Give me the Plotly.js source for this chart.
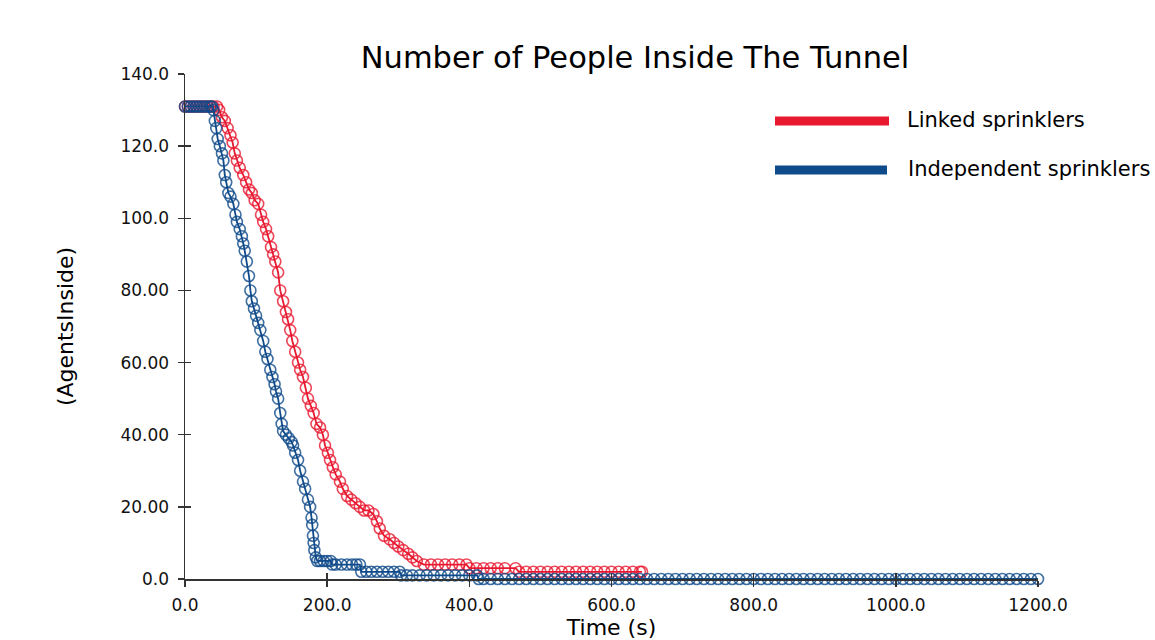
<!DOCTYPE html>
<html>
<head>
<meta charset="utf-8">
<script src="https://cdn.plot.ly/plotly-3.0.1.min.js"></script>
<style>
  html, body { margin: 0; padding: 0; background: #ffffff; }
  #chart { width: 1155px; height: 640px; }
</style>
</head>
<body>
<div id="chart"></div>
<script>
// ---- Data ----
const chartTitle = "Number of People Inside The Tunnel";
const xTitle = "Time (s)";
const yTitle = "(AgentsInside)";
const seriesNames = ["Linked sprinklers", "Independent sprinklers"];

const xTickVals = [0, 200, 400, 600, 800, 1000, 1200];
const xTickText = ["0.0", "200.0", "400.0", "600.0", "800.0", "1000.0", "1200.0"];
const yTickVals = [0, 20, 40, 60, 80, 100, 120, 140];
const yTickText = ["0.0", "20.00", "40.00", "60.00", "80.00", "100.0", "120.0", "140.0"];

// Linked sprinklers
const linkedTime = [
  0, 4, 8, 12, 16, 20, 24, 28, 32, 36,
  40, 45, 48, 52, 56, 60, 64, 67, 70, 73,
  77, 82, 86, 90, 94, 98, 103, 107, 110, 114,
  117, 121, 124, 127, 131, 134, 138, 142, 145, 148,
  151, 155, 159, 162, 166, 170, 173, 177, 181, 185,
  190, 194, 197, 201, 204, 208, 212, 218, 222, 228,
  234, 240, 246, 252, 258, 265, 270, 274, 280, 288,
  294, 300, 307, 314, 320, 326, 336, 346, 356, 366,
  376, 386, 396, 400, 410, 420, 430, 440, 450, 465,
  470, 480, 490, 500, 510, 520, 530, 540, 550, 560,
  570, 580, 590, 600, 610, 620, 630, 640, 643
];
const linkedAgents = [
  131, 131, 131, 131, 131, 131, 131, 131, 131, 131,
  131, 131, 130, 128, 127, 125, 123, 121, 118, 116,
  114, 112, 110, 108, 107, 105, 104, 101, 99, 97,
  95, 92, 90, 88, 85, 80, 77, 74, 72, 69,
  66, 63, 60, 58, 56, 53, 50, 48, 46, 43,
  42, 40, 37, 35, 33, 31, 29, 27, 25, 23,
  22, 21, 20, 19, 19, 18, 16, 14, 12, 11,
  10, 9, 8, 7, 6, 5, 4, 4, 4, 4,
  4, 4, 4, 3, 3, 3, 3, 3, 3, 3,
  2, 2, 2, 2, 2, 2, 2, 2, 2, 2,
  2, 2, 2, 2, 2, 2, 2, 2, 2
];

// Independent sprinklers
const independentTime = [
  0, 4, 8, 12, 16, 20, 24, 28, 32, 36,
  38, 40, 42, 44, 46, 49, 52, 54, 56, 58,
  61, 64, 68, 71, 73, 77, 80, 82, 84, 87,
  90, 92, 94, 97, 100, 103, 106, 110, 113, 116,
  120, 123, 126, 128, 131, 134, 136, 138, 142, 146,
  150, 152, 155, 159, 162, 166, 169, 173, 176, 178,
  179, 180, 181, 182, 184, 186, 190, 195, 200, 205,
  207, 212, 220, 228, 235, 241, 246, 248, 255, 262,
  270, 278, 286, 294, 302, 304, 312, 320, 330, 340,
  350, 360, 370, 380, 390, 400, 411, 413, 420, 430,
  440, 450, 460, 470, 480, 490, 500, 510, 520, 530,
  540, 550, 560, 570, 580, 590, 600, 610, 620, 630,
  640, 650, 660, 670, 680, 690, 700, 710, 720, 730,
  740, 750, 760, 770, 780, 790, 800, 810, 820, 830,
  840, 850, 860, 870, 880, 890, 900, 910, 920, 930,
  940, 950, 960, 970, 980, 990, 1000, 1010, 1020, 1030,
  1040, 1050, 1060, 1070, 1080, 1090, 1100, 1110, 1120, 1130,
  1140, 1150, 1160, 1170, 1180, 1190, 1200
];
const independentAgents = [
  131, 131, 131, 131, 131, 131, 131, 131, 131, 131,
  131, 130, 127, 125, 122, 120, 118, 116, 112, 110,
  107, 106, 104, 101, 99, 97, 95, 93, 91, 88,
  84, 80, 77, 75, 73, 71, 69, 66, 63, 61,
  58, 56, 54, 52, 50, 46, 43, 41, 40, 39,
  38, 37, 35, 33, 30, 27, 25, 22, 20, 17,
  15, 12, 10, 8, 6, 5, 5, 5, 5, 5,
  4, 4, 4, 4, 4, 4, 4, 2, 2, 2,
  2, 2, 2, 2, 2, 1, 1, 1, 1, 1,
  1, 1, 1, 1, 1, 1, 1, 0, 0, 0,
  0, 0, 0, 0, 0, 0, 0, 0, 0, 0,
  0, 0, 0, 0, 0, 0, 0, 0, 0, 0,
  0, 0, 0, 0, 0, 0, 0, 0, 0, 0,
  0, 0, 0, 0, 0, 0, 0, 0, 0, 0,
  0, 0, 0, 0, 0, 0, 0, 0, 0, 0,
  0, 0, 0, 0, 0, 0, 0, 0, 0, 0,
  0, 0, 0, 0, 0, 0, 0, 0, 0, 0,
  0, 0, 0, 0, 0, 0, 0
];

// ---- Styling ----
const RED = "#e8182f";
const BLUE = "#0f4a8a";
const FONT = "DejaVu Sans, Liberation Sans, Arial, sans-serif";

const traces = [
  {
    x: linkedTime, y: linkedAgents, name: seriesNames[0],
    type: "scatter", mode: "lines+markers",
    line: { color: RED, width: 1.8 },
    marker: { symbol: "circle-open", size: 11, color: RED, opacity: 0.8, line: { width: 1.6 } },
    cliponaxis: false, showlegend: false, hoverinfo: "x+y"
  },
  {
    x: independentTime, y: independentAgents, name: seriesNames[1],
    type: "scatter", mode: "lines+markers",
    line: { color: BLUE, width: 1.8 },
    marker: { symbol: "circle-open", size: 11, color: BLUE, opacity: 0.8, line: { width: 1.6 } },
    cliponaxis: false, showlegend: false, hoverinfo: "x+y"
  },
  // empty trace so the overlay axes (crossing tick marks) get drawn
  { x: [], y: [], xaxis: "x2", yaxis: "y2", type: "scatter", mode: "markers",
    showlegend: false, hoverinfo: "skip" }
];

const axisCommon = {
  showgrid: false, zeroline: false,
  showline: true, linecolor: "#333333", linewidth: 1.5,
  ticks: "outside", ticklen: 6, tickwidth: 1.5, tickcolor: "#333333",
  tickfont: { family: FONT, size: 17, color: "#111111" }
};

const layout = {
  width: 1155, height: 640,
  paper_bgcolor: "#ffffff", plot_bgcolor: "#ffffff",
  margin: { l: 185, r: 117, t: 74, b: 61 },
  showlegend: false,
  title: {
    text: chartTitle,
    font: { family: FONT, size: 30.5, color: "#000000" },
    x: 635 / 1155, xref: "container", xanchor: "center",
    y: 1 - 57 / 640, yref: "container", yanchor: "middle"
  },
  xaxis: Object.assign({}, axisCommon, {
    range: [0, 1200], tickmode: "array", tickvals: xTickVals, ticktext: xTickText,
    ticklabelstandoff: 4,
    title: { text: xTitle, font: { family: FONT, size: 22, color: "#000000" }, standoff: 8 }
  }),
  yaxis: Object.assign({}, axisCommon, {
    range: [0, 140], tickmode: "array", tickvals: yTickVals, ticktext: yTickText,
    ticklabelstandoff: 5,
    title: { text: yTitle, font: { family: FONT, size: 22, color: "#000000" }, standoff: 40 }
  }),
  xaxis2: {
    overlaying: "x", anchor: "y2", range: [0, 1200], showgrid: false, zeroline: false,
    showline: false, showticklabels: false, tickmode: "array", tickvals: xTickVals,
    ticks: "inside", ticklen: 6, tickwidth: 1.5, tickcolor: "#333333"
  },
  yaxis2: {
    overlaying: "y", anchor: "x2", range: [0, 140], showgrid: false, zeroline: false,
    showline: false, showticklabels: false, tickmode: "array", tickvals: yTickVals,
    ticks: "inside", ticklen: 6, tickwidth: 1.5, tickcolor: "#333333"
  },
  shapes: [
    { type: "line", xref: "paper", yref: "paper", x0: (775 - 185) / 853, x1: (889 - 185) / 853,
      y0: (579 - 121) / 505, y1: (579 - 121) / 505, line: { color: RED, width: 9 } },
    { type: "line", xref: "paper", yref: "paper", x0: (775 - 185) / 853, x1: (887 - 185) / 853,
      y0: (579 - 170) / 505, y1: (579 - 170) / 505, line: { color: BLUE, width: 9 } }
  ],
  annotations: [
    { text: seriesNames[0], xref: "paper", yref: "paper", x: (905 - 185) / 853, y: (579 - 120) / 505,
      xanchor: "left", yanchor: "middle", showarrow: false,
      font: { family: FONT, size: 21, color: "#000000" } },
    { text: seriesNames[1], xref: "paper", yref: "paper", x: (906 - 185) / 853, y: (579 - 169) / 505,
      xanchor: "left", yanchor: "middle", showarrow: false,
      font: { family: FONT, size: 21, color: "#000000" } }
  ]
};

Plotly.newPlot("chart", traces, layout, { displayModeBar: false, staticPlot: true });
</script>
</body>
</html>
